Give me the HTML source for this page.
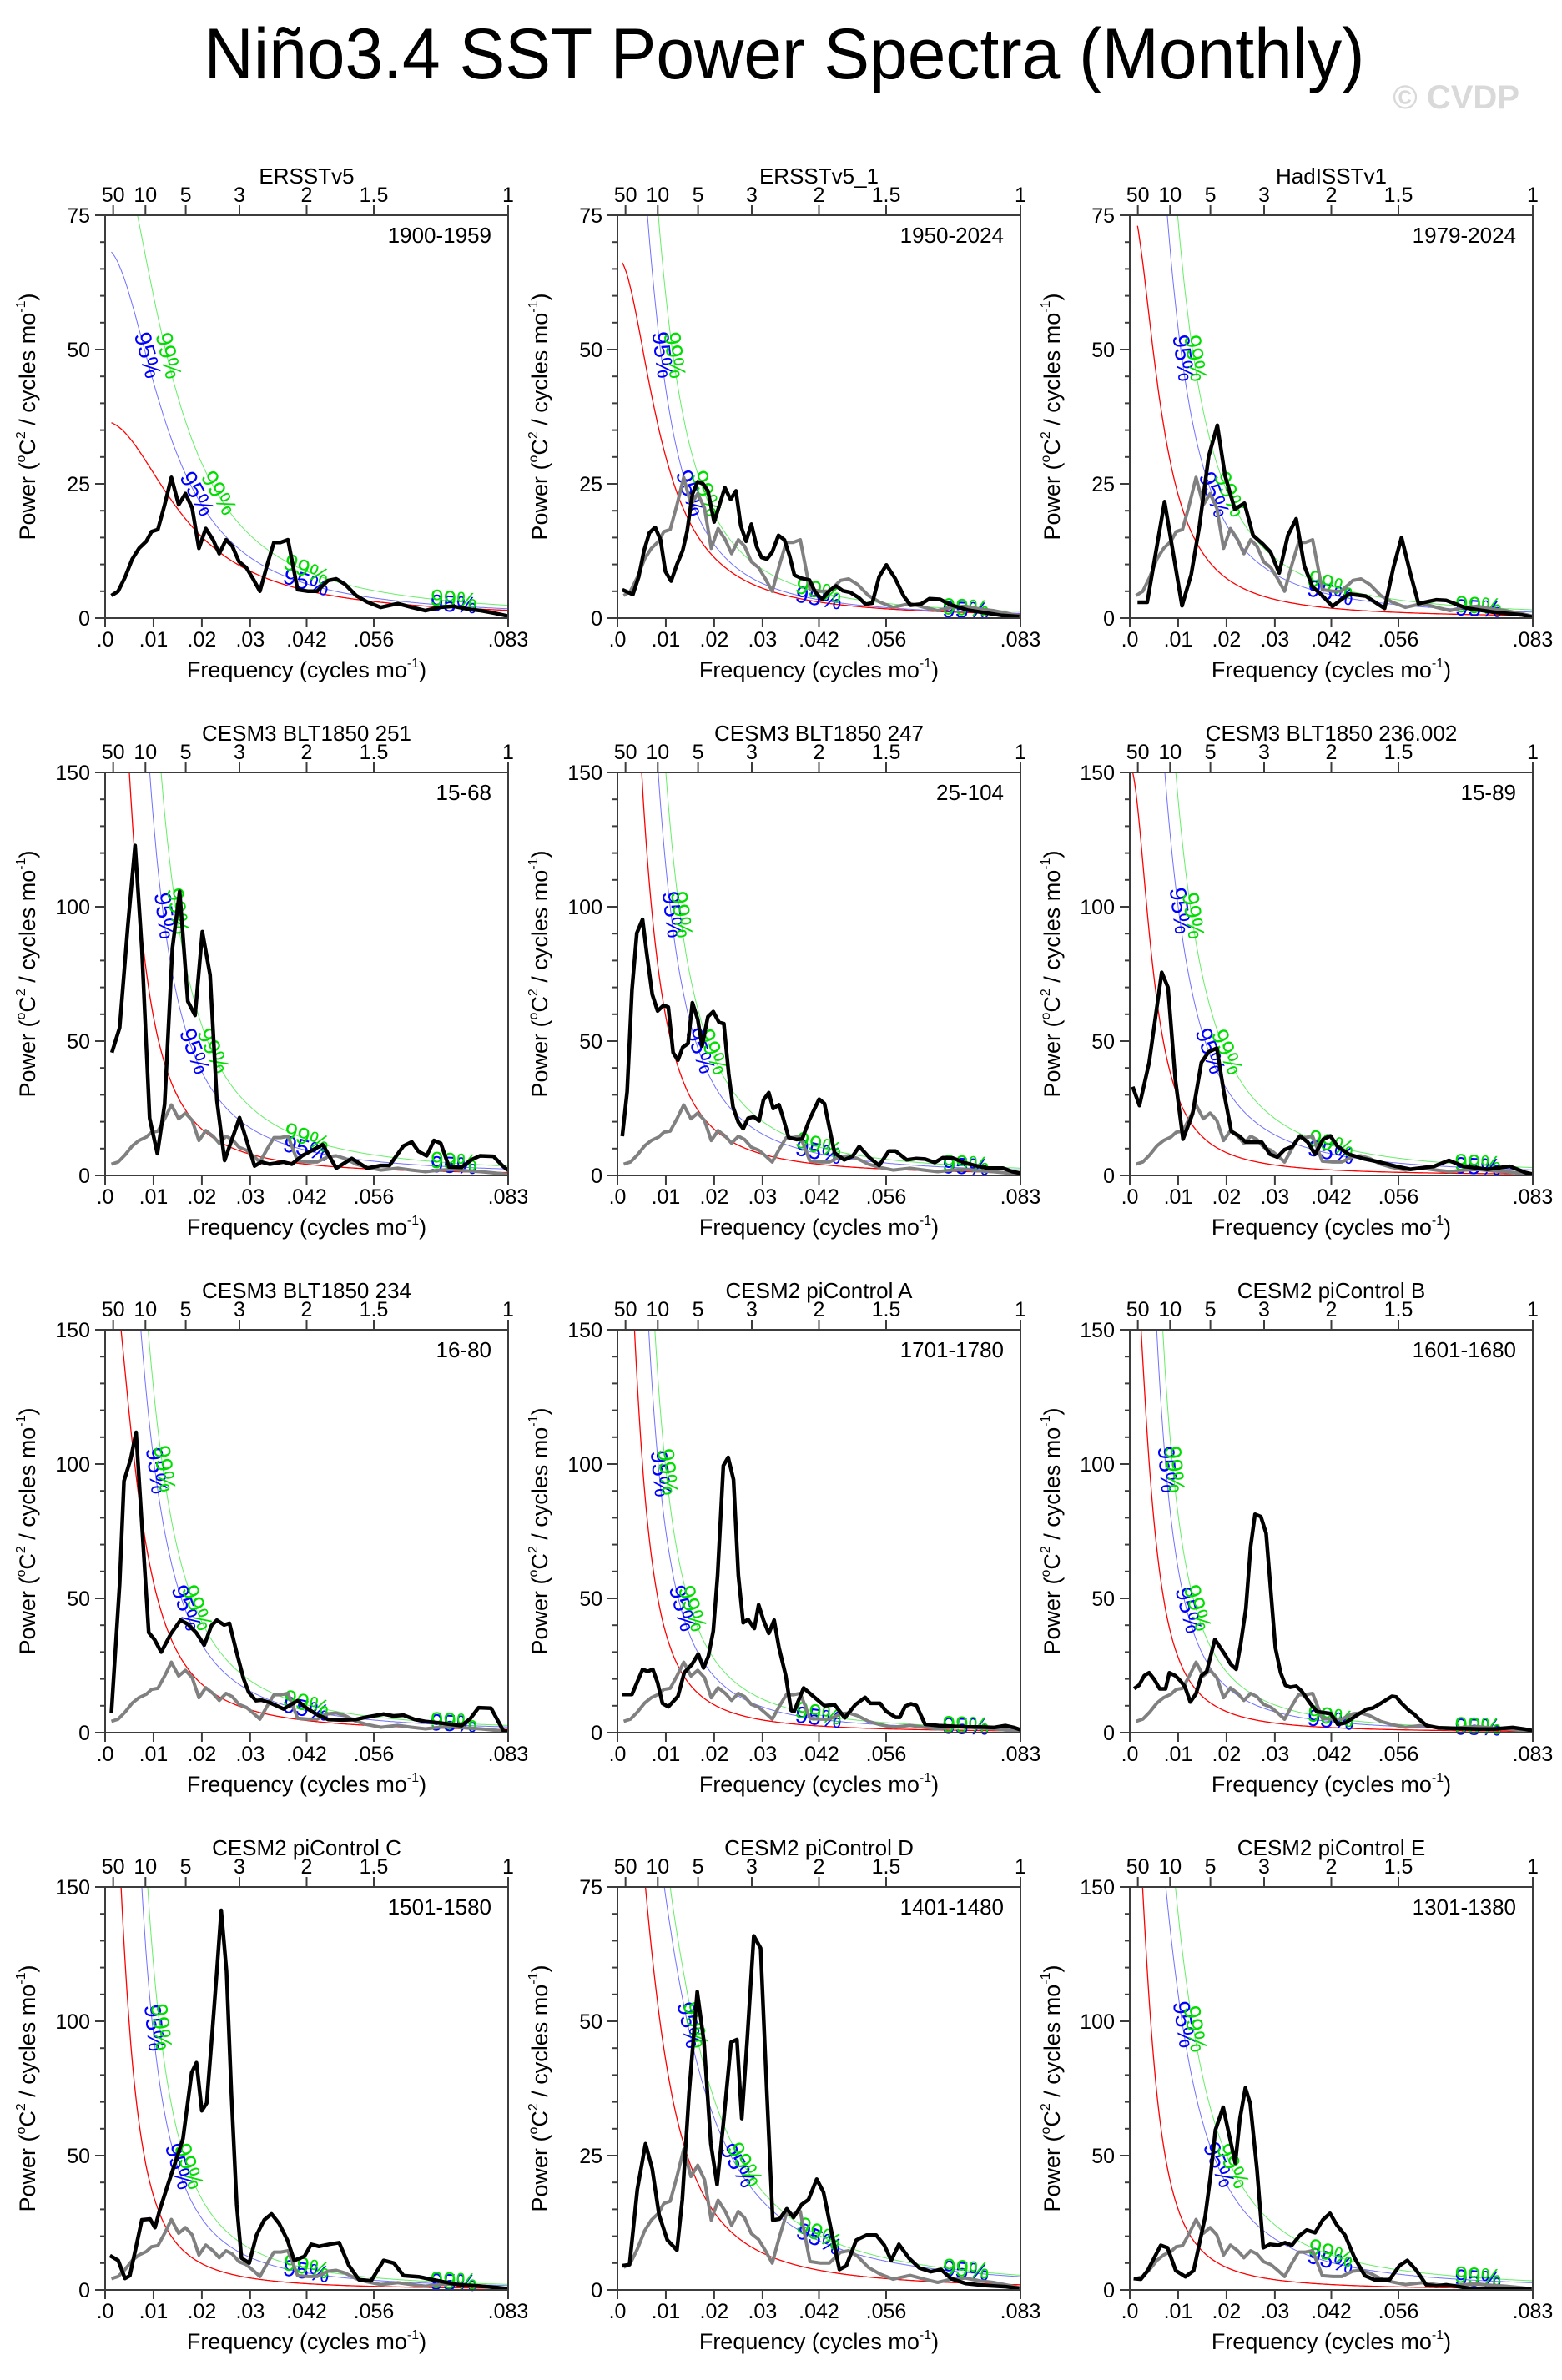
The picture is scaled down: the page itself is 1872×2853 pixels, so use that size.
<!DOCTYPE html>
<html><head><meta charset="utf-8"><title>Niño3.4 SST Power Spectra</title>
<style>
html,body{margin:0;padding:0;background:#fff;}
svg{display:block;font-family:"Liberation Sans",Arial,sans-serif;}
</style></head>
<body>
<svg id="chart" width="1872" height="2853" viewBox="0 0 1872 2853" xmlns="http://www.w3.org/2000/svg">
<rect x="0" y="0" width="1872" height="2853" fill="#fff"/>
<text x="940" y="94" font-size="86" text-anchor="middle" textLength="1391" lengthAdjust="spacingAndGlyphs" fill="#000">Niño3.4 SST Power Spectra (Monthly)</text>
<text x="1821" y="130" font-size="40" font-weight="bold" text-anchor="end" fill="#d9d9d9">© CVDP</text>
</svg>
<script>
// ---------- data ----------
const titles = ["ERSSTv5","ERSSTv5_1","HadISSTv1","CESM3 BLT1850 251","CESM3 BLT1850 247","CESM3 BLT1850 236.002","CESM3 BLT1850 234","CESM2 piControl A","CESM2 piControl B","CESM2 piControl C","CESM2 piControl D","CESM2 piControl E"];
const periods = ["1900-1959","1950-2024","1979-2024","15-68","25-104","15-89","16-80","1701-1780","1601-1680","1501-1580","1401-1480","1301-1380"];
const yMax = [75,75,75,150,150,150,150,150,150,150,75,150];
const xTickVals = [0, 0.01, 0.02, 0.03, 1/24, 1/18, 1/12];
const xTickLabels = [".0",".01",".02",".03",".042",".056",".083"];
const periodTickYears = [50,10,5,3,2,1.5,1];
const periodTickLabels = ["50","10","5","3","2","1.5","1"];
// red-noise (markov) spectra: value at f=0.01 and lag-1 autocorrelation
const redV10 = [27,30,23,59,59,29,56,37,28,35,42.6,30];
const redR = [0.9,0.945,0.96,0.97,0.97,0.97,0.96,0.975,0.975,0.975,0.955,0.975];
const blueV10 = [43.9,42.6,54,132,115,100,102,75,61,95,73,110];
const blueR = [0.92,0.96,0.96,0.97,0.97,0.96,0.96,0.975,0.975,0.975,0.93,0.95];
const greenV10 = [60,60,74,191,150,140,128,98,81,121,81,140];
const greenR = [0.92,0.96,0.96,0.97,0.97,0.96,0.96,0.975,0.975,0.975,0.93,0.95];

// observed ERSSTv5 (panel 1 black, grey reference elsewhere)
const obsFreq = [.0013,.0027,.0041,.0056,.007,.0085,.0096,.0109,.0123,.0137,.0152,.0166,.018,.0194,.0208,.0223,.0236,.025,.0263,.0277,.0292,.0306,.032,.0335,.0349,.0363,.0378,.0398,.042,.0438,.0461,.0478,.0496,.0519,.0542,.057,.0605,.0634,.0662,.0691,.072,.0749,.0777,.0806,.0832];
const obsPower = [4.2,5,7.6,11,13,14.3,16.1,16.5,21.1,26.2,21.1,23.2,20.5,13,16.7,14.6,12,14.6,13.4,10.5,9.4,7.3,5,9.9,14.1,14.1,14.6,5.3,5,5,7,7.3,6.3,4.2,3,2,2.7,2,1.4,2,2.2,1.7,1.4,.9,.4];

const freq2 = [.001,.0032,.0044,.0055,.0066,.0078,.0089,.0099,.0111,.0123,.0135,.0144,.0155,.0166,.0177,.0187,.02,.0209,.0222,.0234,.0245,.0255,.0266,.0277,.0288,.0298,.0309,.032,.0333,.0345,.0356,.0366,.0381,.0397,.0409,.0423,.0438,.0452,.0466,.0481,.0499,.0513,.0527,.0541,.0556,.0574,.0592,.0606,.0627,.0645,.0667,.0688,.0724,.076,.0795,.0831];
const power2 = [5.3,4.4,7.7,12.6,15.9,16.9,14.6,8.7,6.9,10,12.6,16.2,23.1,25.4,25,23.7,17.9,20.5,24.3,22.1,23.7,17.2,14.3,17.5,13.3,11.3,11,12.3,15.4,14.6,11.6,8,7.4,7.1,4.8,3.5,5.1,6,5.1,4.8,3.8,2.6,2.8,7.7,9.9,7.4,4.1,2.4,2.6,3.6,3.5,2.5,1.5,1,.5,.3];

const freq3 = [.0016,.0036,.0072,.0108,.0127,.0144,.0163,.0181,.0197,.0217,.0237,.0255,.0275,.0291,.0309,.0327,.0344,.0361,.0378,.0398,.0419,.0453,.0488,.0527,.0545,.0562,.058,.0597,.0634,.0654,.0672,.0695,.0752,.081,.0833];
const power3 = [2.95,2.95,21.7,2.3,8.1,17.2,30.1,35.9,26.5,20.3,21.4,15.4,13.8,12.3,8.4,15.4,18.5,9.7,5.8,4.2,2.2,4.5,4.1,1.8,9.4,15,8.4,2.7,3.4,3.3,2.7,1.9,1.1,.6,.2];

const freq4 = [.0014,.003,.0047,.0062,.0076,.0092,.0108,.0123,.0139,.0154,.0171,.0186,.0201,.0217,.0231,.0247,.0278,.0309,.0323,.034,.0369,.0386,.0407,.045,.0478,.051,.0542,.057,.0588,.0617,.0634,.0648,.0665,.068,.0694,.0711,.0737,.0757,.0775,.0803,.0821,.0833];
const power4 = [45.7,55,92.8,122.8,84.5,21.3,8.1,26.5,84.5,105.7,64.8,59.6,90.7,74.6,28,5.6,21.5,3.5,5,4.2,5,4.2,7.3,11.5,2.7,6.3,2.7,3.7,3.7,11,12.5,8.9,7.3,13,12,3.2,3,5.8,7.3,7.1,3.7,1.9];

const freq5 = [.001,.002,.003,.004,.0052,.006,.0072,.0083,.0095,.0105,.0115,.0125,.0135,.0146,.0155,.0166,.0175,.0187,.0198,.021,.022,.023,.0239,.025,.026,.027,.0282,.0293,.0302,.0313,.0322,.0334,.0342,.0354,.0371,.0382,.0397,.0417,.0428,.0449,.0469,.0486,.05,.052,.0541,.0561,.0575,.0598,.0618,.0636,.0656,.0673,.0693,.0716,.0739,.0765,.0797,.0817,.0834];
const power5 = [14.6,31.2,69,90.2,95.3,83.4,67.4,61.2,63.3,62.7,45.7,42.9,47.7,49.1,64.3,58.1,48.2,59.1,61,57,56.5,37.9,25.5,19.8,17.4,21.3,21.8,20.3,28.1,30.8,24.9,26.3,21.8,14.1,13.4,13.6,20.8,28.4,26.7,8.4,5.8,7.1,10.8,6.8,3.7,9.1,9.1,5.8,6.3,6.1,4.8,6.6,6.5,4.8,3.7,2.7,2.7,1.4,.8];

const freq6 = [.0006,.002,.004,.0066,.0079,.0094,.011,.013,.0148,.0163,.018,.0195,.021,.0226,.024,.0258,.0273,.029,.0305,.032,.0336,.0352,.0368,.0383,.04,.0415,.043,.0453,.0484,.0516,.055,.058,.0629,.066,.069,.0739,.0786,.0818,.0833];
const power6 = [33,26,42,75.6,70,36,13.5,23,42,46,47.4,30.5,16.4,14.7,12.4,12.4,12.4,7.9,6.8,9.6,10.7,14.7,12.4,7.9,13.5,14.7,10.7,7.9,6.2,5,3.4,2.3,3.4,5.6,3.4,2.3,3.4,1.1,.5];

const freq7 = [.0013,.003,.0039,.0053,.0064,.009,.0102,.0116,.0136,.0156,.0171,.0188,.0205,.022,.0231,.0246,.0257,.0271,.0286,.0297,.0312,.0323,.034,.0369,.0398,.0415,.0438,.0461,.049,.0519,.0539,.0576,.0596,.0617,.064,.0663,.0691,.0737,.0755,.0772,.0798,.0824,.0833];
const power7 = [7.2,55.4,93.7,102,111.8,37.3,34.7,30,36.8,41.9,40.4,37.3,32.6,39.9,41.9,40.1,40.7,30.5,20.2,15,11.9,12.1,11.2,8.8,11.9,9.3,6.7,4.9,4.7,4.9,5.7,6.9,6.2,6.5,4.9,4.1,3.6,2.6,5.2,9.3,9.1,.5,.5];

const freq8 = [.001,.003,.0052,.0063,.0073,.0083,.0093,.0105,.0125,.0138,.0154,.0167,.0178,.0188,.0198,.0207,.0219,.0229,.024,.025,.026,.027,.0283,.0292,.0302,.0313,.0324,.0334,.0348,.0359,.0365,.0385,.0405,.0428,.0449,.047,.0492,.0512,.0523,.0543,.0555,.0575,.0584,.0595,.0607,.0618,.0636,.0664,.0722,.0751,.0779,.0802,.082,.0834];
const power8 = [14.2,14.2,23.5,22.8,23.6,18.6,10.9,9.6,13.5,22.3,25.4,29.3,24.1,28.5,37.8,58.5,99.4,102.5,94.2,58.5,40.9,42.2,38.8,47.6,41.9,37,41.9,31.6,21.2,8.3,7.8,16.6,13.5,10,10.4,5.5,10.4,13.1,10.9,10.9,8,5.7,5.7,9.8,10.7,10.1,3.1,2.6,2.1,2.1,1.9,2.6,1.9,1];

const freq9 = [.0009,.0019,.003,.004,.0051,.0062,.0074,.0082,.0094,.0105,.0114,.0125,.0137,.0148,.0159,.0176,.0197,.0209,.022,.0229,.024,.025,.0259,.0271,.0282,.0289,.0301,.0312,.0322,.0332,.0344,.0355,.0373,.0387,.0399,.0416,.043,.0445,.0459,.0476,.0491,.0502,.0519,.0542,.0551,.0562,.0577,.0588,.06,.0614,.0637,.0666,.0723,.0752,.0792,.0816,.0833];
const power9 = [16.4,17.6,21.2,22.3,19.7,16.3,16.3,22.3,21.2,19.2,17.1,11.4,14.5,21.2,22.8,34.7,29,25.4,23.6,32.6,46.1,69.4,81.3,80.4,74.2,58.5,31.6,22.3,17.6,16.9,17.3,15.5,10.9,7.8,7.5,7,3.1,3.6,5.2,7.2,8.8,9.1,10.9,13.5,13.3,10.9,8.3,6.9,4.7,2.6,1.8,1.6,1.3,1.3,1.9,1.3,.7];

const freq10 = [.001,.0027,.0041,.0051,.0076,.0093,.0103,.0113,.013,.0144,.0161,.0179,.0189,.02,.021,.022,.0231,.024,.0251,.0261,.0272,.0282,.0298,.0313,.0329,.0344,.036,.0377,.0391,.0412,.0426,.0442,.0463,.0484,.0504,.0525,.055,.0576,.0597,.0617,.0648,.0689,.0731,.0772,.0813,.0833];
const power10 = [12.8,11,4.3,5.3,26.1,26.4,23.2,29.8,39.3,46.9,56.3,80.9,84.6,66.7,69.5,92.2,118.6,141.3,118.6,73.3,31.7,11.9,10,20.4,26.1,28.3,24.6,18.5,11,12.5,17,16.2,17,17.6,9.1,3.8,3.4,11,10,5.3,4.9,3.4,1.9,1.5,.8,.4];

const freq11 = [.001,.0025,.0041,.0058,.0072,.0086,.0103,.0123,.0134,.0148,.0165,.0179,.0193,.0206,.022,.0235,.0247,.0257,.0268,.0282,.0296,.0309,.0321,.0335,.035,.0364,.0381,.0395,.0412,.0426,.0442,.0459,.0473,.0494,.0515,.0535,.0552,.0566,.0582,.0603,.0624,.0648,.0669,.069,.072,.0761,.0803,.0831];
const power11 = [4.5,4.7,18.7,27.2,22.5,14,9.3,7.4,16.8,36.6,55.5,46.1,27.2,19.6,31.9,46.1,46.6,31.9,46.1,65.9,63.6,36.6,13,13.2,15.1,13.5,15.9,16.8,20.6,18.2,11.1,3.8,4.5,9.3,10.2,10.2,8.3,5.5,8.5,5.9,4.1,3.4,3.8,2.1,1.2,.8,.6,.3];

const freq12 = [.0008,.0023,.0037,.0064,.0078,.0095,.0115,.0132,.0156,.0167,.0177,.0193,.0218,.0228,.0239,.0249,.0263,.0276,.029,.0307,.0321,.0335,.0352,.0366,.0383,.0399,.0414,.0428,.0445,.0465,.0486,.0506,.0537,.0558,.0574,.0593,.0613,.0634,.0654,.0671,.0702,.0753,.0831];
const power12 = [4.3,4,7.2,16.6,15.7,7.2,4.9,7.2,27.4,42.5,59.5,68,47.2,63.9,75.2,69.5,45,15.7,17,16.6,17.6,16.6,20.4,22.3,21.3,26.1,28.5,24.2,20.4,11.9,5.3,3.8,3.8,9.1,11,7.2,1.9,1.5,1.9,1.5,.6,.6,.4];

const panelFreqs = [obsFreq,freq2,freq3,freq4,freq5,freq6,freq7,freq8,freq9,freq10,freq11,freq12];
const panelPowers = [obsPower,power2,power3,power4,power5,power6,power7,power8,power9,power10,power11,power12];

// ---------- layout ----------
const NS = 'http://www.w3.org/2000/svg';
const svg = document.getElementById('chart');
const colLeft = [126,740,1354];
const rowTop = [258,926,1594,2262];
const PW = 483, PH = 483, XMAX = 1/12;
const AXC = '#3c3c3c';

function mk(tag, attrs, parent){
  const e = document.createElementNS(NS, tag);
  for (const k in attrs) e.setAttribute(k, attrs[k]);
  (parent || svg).appendChild(e);
  return e;
}
function markov(v10, r, f){
  const d = (1-r)*(1-r) + 2*r*(1-Math.cos(2*Math.PI*f));
  const d10 = (1-r)*(1-r) + 2*r*(1-Math.cos(2*Math.PI*0.01));
  return v10 * d10 / d;
}

for (let i = 0; i < 12; i++){
  const L = colLeft[i%3], T = rowTop[Math.floor(i/3)], R = L+PW, B = T+PH;
  const vmax = yMax[i];
  const sx = f => L + f/XMAX*PW;
  const sy = v => B - v/vmax*PH;
  const g = mk('g', {});
  
  

  const cp = mk('clipPath', {id: 'clip'+i}, g);
  mk('rect', {x:L, y:T, width:PW, height:PH}, cp);

  const tt = mk('text', {x:(L+R)/2, y:T-38, 'font-size':26, 'text-anchor':'middle', fill:'#000'}, g);
  tt.textContent = titles[i];
  
  

  const pl = mk('text', {x:R-20, y:T+33, 'font-size':26, 'text-anchor':'end', fill:'#000'}, g);
  pl.textContent = periods[i];
  
  

  const f0 = panelFreqs[i][0];
  const curves = [[redV10[i], redR[i], '#ff0000', 'red-noise-curve', 1.3],
                  [blueV10[i], blueR[i], '#7070ff', 'ci95-curve', 1],
                  [greenV10[i], greenR[i], '#66ee66', 'ci99-curve', 1]];
  const samples = [];
  curves.forEach((c, ci) => {
    let d = '', pts = [];
    for (let k = 0; k <= 400; k++){
      const f = f0 + (XMAX - f0)*k/400;
      const v = markov(c[0], c[1], f);
      pts.push([f, v]);
      d += (k ? 'L' : 'M') + sx(f).toFixed(1) + ',' + Math.max(sy(v), T-50).toFixed(1);
    }
    samples.push(pts);
    const p = mk('path', {d:d, fill:'none', stroke:c[2], 'stroke-width':c[4], 'clip-path':'url(#clip'+i+')'}, g);
    
    
  });

  [[1,'95%','#0000ff'],[2,'99%','#00dd00']].forEach(lb => {
    const pts = samples[lb[0]];
    const spots = [];
    [0.66*vmax, 0.31*vmax].forEach(level => {
      for (let k = 1; k < pts.length; k++){
        if (pts[k-1][1] >= level && pts[k][1] < level){ spots.push(k); break; }
      }
    });
    [0.0415, 0.072].forEach(ff => {
      let best = 0, bd = 1;
      pts.forEach((p, k) => { if (Math.abs(p[0]-ff) < bd){ bd = Math.abs(p[0]-ff); best = k; } });
      spots.push(best);
    });
    spots.forEach(k => {
      const k2 = Math.min(k+3, pts.length-1), k1 = Math.max(k-3, 0);
      const x = sx(pts[k][0]), y = sy(pts[k][1]);
      const ang = Math.atan2(sy(pts[k2][1]) - sy(pts[k1][1]), sx(pts[k2][0]) - sx(pts[k1][0]))*180/Math.PI;
      const t = mk('text', {x:x, y:y, 'font-size':28, 'text-anchor':'middle', 'dominant-baseline':'middle', fill:lb[2],
                            transform:'rotate('+ang.toFixed(1)+' '+x.toFixed(1)+' '+y.toFixed(1)+')'}, g);
      t.textContent = lb[1];
      
      
    });
  });

  if (i > 0){
    let d = '';
    obsFreq.forEach((f, k) => { d += (k ? 'L' : 'M') + sx(f).toFixed(1) + ',' + sy(obsPower[k]).toFixed(1); });
    const gp = mk('path', {d:d, fill:'none', stroke:'#808080', 'stroke-width':4, 'stroke-linejoin':'round', 'clip-path':'url(#clip'+i+')'}, g);
    
    
  }
  {
    const fr = panelFreqs[i], pw = panelPowers[i];
    const n = Math.min(fr.length, pw.length);
    let d = '';
    for (let k = 0; k < n; k++) d += (k ? 'L' : 'M') + sx(fr[k]).toFixed(1) + ',' + sy(pw[k]).toFixed(1);
    const bp = mk('path', {d:d, fill:'none', stroke:'#000', 'stroke-width':4.5, 'stroke-linejoin':'round', 'clip-path':'url(#clip'+i+')'}, g);
    
    
  }

  const fr = mk('rect', {x:L, y:T, width:PW, height:PH, fill:'none', stroke:AXC, 'stroke-width':2}, g);
  
  

  const major = vmax/3, minor = vmax/15;
  for (let v = 0; v <= vmax + 1e-6; v += minor){
    const isMaj = Math.abs(v/major - Math.round(v/major)) < 1e-6;
    const y = sy(v);
    mk('line', {x1:L - (isMaj ? 12 : 6), x2:L, y1:y, y2:y, stroke:AXC, 'stroke-width':2}, g);
    if (isMaj){
      const t = mk('text', {x:L-18, y:y+9, 'font-size':25, 'text-anchor':'end', fill:'#000'}, g);
      t.textContent = String(Math.round(v));
      
      
    }
  }
  xTickVals.forEach((f, k) => {
    const x = sx(f);
    mk('line', {x1:x, x2:x, y1:B, y2:B+11, stroke:AXC, 'stroke-width':2}, g);
    const t = mk('text', {x:x, y:B+34, 'font-size':25, 'text-anchor':'middle', fill:'#000'}, g);
    t.textContent = xTickLabels[k];
    
    
  });
  periodTickYears.forEach((p, k) => {
    const x = sx(1/(12*p));
    mk('line', {x1:x, x2:x, y1:T-12, y2:T, stroke:AXC, 'stroke-width':2}, g);
    const t = mk('text', {x:x, y:T-16, 'font-size':25, 'text-anchor':'middle', fill:'#000'}, g);
    t.textContent = periodTickLabels[k];
    
    
  });

  const xt = mk('text', {x:(L+R)/2, y:B+71, 'font-size':27, 'text-anchor':'middle', fill:'#000'}, g);
  xt.innerHTML = 'Frequency (cycles mo<tspan font-size="16" dy="-12">-1</tspan><tspan dy="12">)</tspan>';
  
  

  const yx = L-84, yy = (T+B)/2;
  const yt = mk('text', {x:yx, y:yy, 'font-size':27, 'text-anchor':'middle', fill:'#000', transform:'rotate(-90 '+yx+' '+yy+')'}, g);
  yt.innerHTML = 'Power (<tspan font-size="16" dy="-12">o</tspan><tspan dy="12">C</tspan><tspan font-size="16" dy="-12">2</tspan><tspan dy="12"> / cycles mo</tspan><tspan font-size="16" dy="-12">-1</tspan><tspan dy="12">)</tspan>';
  
  
}
</script>
</body></html>
